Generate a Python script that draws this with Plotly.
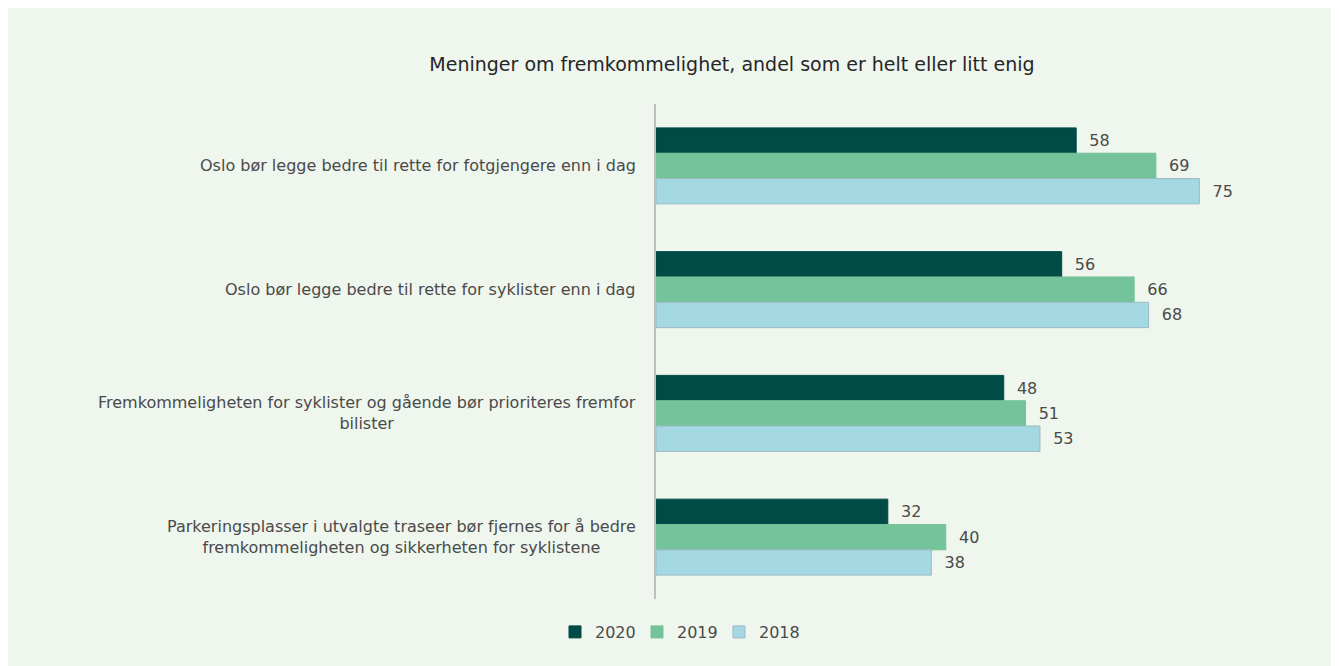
import plotly.graph_objects as go

# ---------- data ----------
categories = [
    "Oslo bør legge bedre til rette for fotgjengere enn i dag",
    "Oslo bør legge bedre til rette for syklister enn i dag",
    "Fremkommeligheten for syklister og gående bør prioriteres fremfor<br>bilister",
    "Parkeringsplasser i utvalgte traseer bør fjernes for å bedre<br>fremkommeligheten og sikkerheten for syklistene",
]
years = ["2020", "2019", "2018"]
values_2020 = [58, 56, 48, 32]
values_2019 = [69, 66, 51, 40]
values_2018 = [75, 68, 53, 38]

title = "Meninger om fremkommelighet, andel som er helt eller litt enig"

# ---------- style ----------
PANEL = "#EFF6EE"
TEXT = "#4A4A4A"
FONT = "DejaVu Sans, Arial, sans-serif"
colors = {"2020": "#004B45", "2019": "#74C39A", "2018": "#A4D8E2"}
outlines = {"2020": "#004B45", "2019": "#74C39A", "2018": "#9CB9C0"}

# page body has an 8px margin, so the figure is drawn 8px in from the corner
OFF = 8
W, H = 1336 - OFF, 666 - OFF
L, R, T = 656 - OFF, W - (1308 - OFF), 104 - OFF
B = H - (599 - OFF)
pw, ph = W - L - R, H - T - B

fig = go.Figure()
for yr, vals in zip(years, [values_2020, values_2019, values_2018]):
    fig.add_trace(go.Bar(
        y=categories, x=vals, name=yr, orientation="h",
        marker=dict(color=colors[yr], line=dict(color=outlines[yr], width=1)),
        text=vals, texttemplate="  %{x}", textposition="outside",
        textfont=dict(size=16, color=TEXT, family=FONT),
        cliponaxis=False,
    ))

# category labels, centred multi-line like the original
for c in categories:
    fig.add_annotation(
        x=0, xref="paper", y=c, yref="y", xanchor="right", xshift=-18,
        text=c, showarrow=False, align="center",
        font=dict(size=16, color=TEXT, family=FONT),
    )

fig.update_layout(
    width=W, height=H,
    margin=dict(l=L, r=R, t=T, b=B),
    paper_bgcolor=PANEL, plot_bgcolor="rgba(0,0,0,0)",
    barmode="group", bargap=0.386, bargroupgap=0,
    font=dict(family=FONT, color=TEXT),
    title=dict(
        text=title, xref="paper", x=(732 - OFF - L) / pw, xanchor="center",
        yref="container", y=1 - (64 - OFF) / H, yanchor="middle",
        font=dict(size=19, color="#262626", family=FONT),
    ),
    xaxis=dict(range=[0, 90], visible=False),
    yaxis=dict(
        autorange="reversed", showticklabels=False, ticks="",
        showline=True, linecolor="#BFBFBF", linewidth=2, showgrid=False,
    ),
    legend=dict(
        orientation="h", xref="paper", x=(678 - OFF - L) / pw, xanchor="center",
        yref="container", y=1 - (632 - OFF) / H, yanchor="middle",
        font=dict(size=16, color=TEXT, family=FONT),
        bgcolor="rgba(0,0,0,0)",
        traceorder="normal", itemwidth=30, entrywidth=37,
    ),
    showlegend=True,
)

fig.write_html("out.html")
